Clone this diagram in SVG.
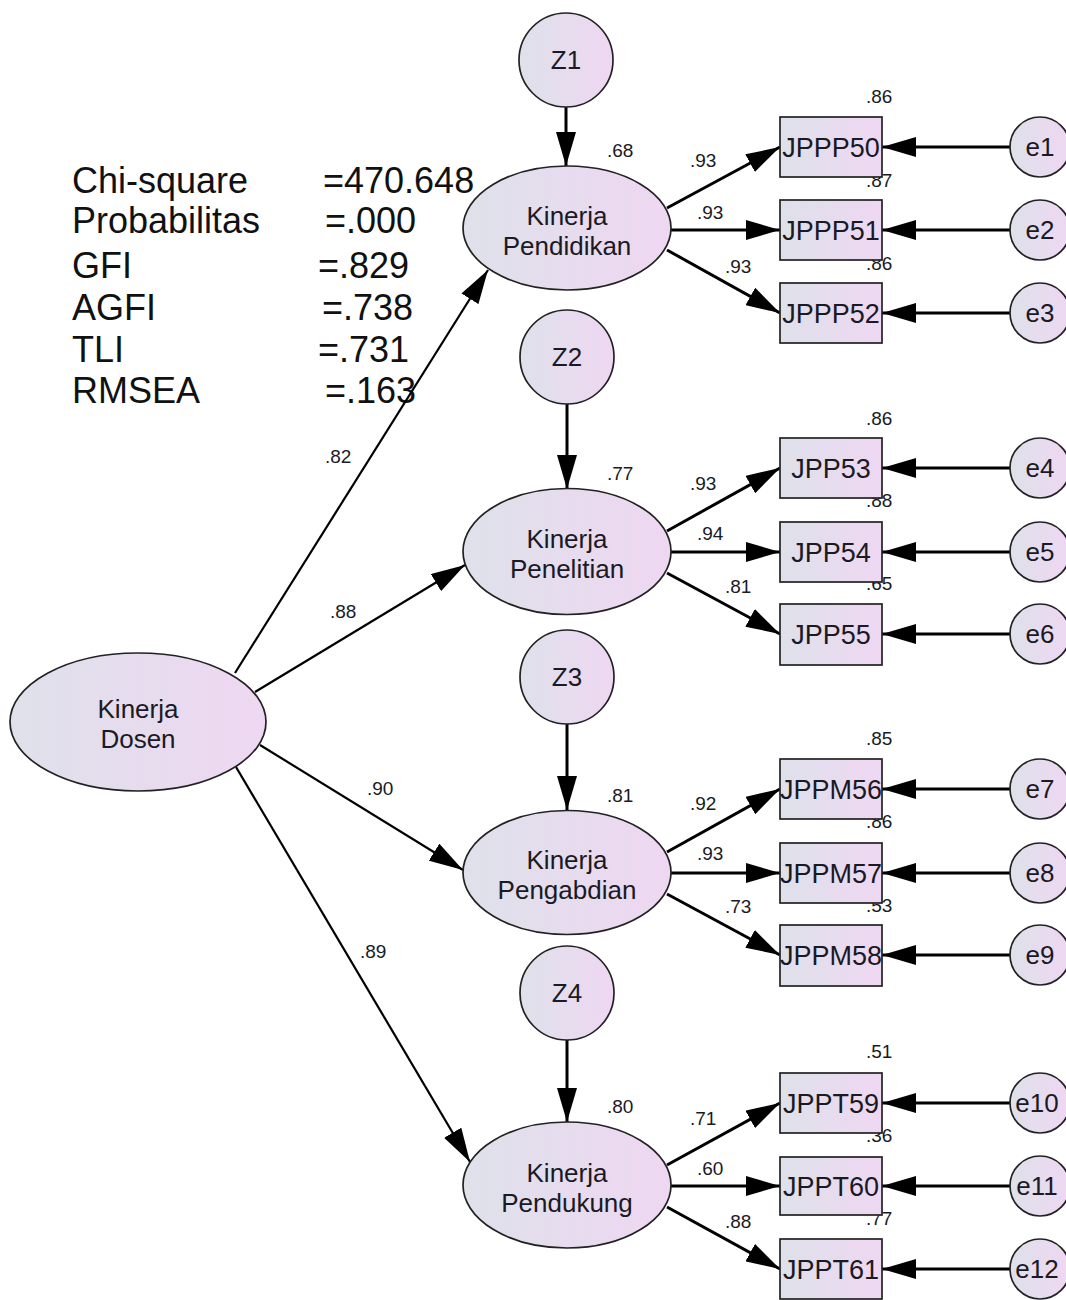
<svg xmlns="http://www.w3.org/2000/svg" width="1066" height="1300" viewBox="0 0 1066 1300">
  <defs>
    <linearGradient id="fillGrad" x1="0" y1="0" x2="1" y2="0">
      <stop offset="0" stop-color="#dee1ea"/>
      <stop offset="1" stop-color="#efd7f2"/>
    </linearGradient>
    <marker id="arrow" markerUnits="userSpaceOnUse" markerWidth="34" markerHeight="20" refX="34" refY="10" orient="auto">
      <path d="M0,0 L34,10 L0,20 Z" fill="#000"/>
    </marker>
  </defs>
  <style>
    .shape { fill: url(#fillGrad); stroke: #222; stroke-width: 1.7; }
    .lbl { font-family: "Liberation Sans", Arial, sans-serif; fill: #1a1a24; }
    .node { font-size: 26px; text-anchor: middle; }
    .box { font-size: 27px; text-anchor: middle; }
    .coef { font-size: 19px; }
    .stat { font-size: 36px; fill: #111; }
    .path { stroke: #000; stroke-width: 2.2; fill: none; marker-end: url(#arrow); }
    .ind { stroke: #000; stroke-width: 3; fill: none; marker-end: url(#arrow); }
  </style>

  <rect width="1066" height="1300" fill="#fff"/>

  <!-- fit statistics -->
  <g id="fit-stats" class="lbl stat">
    <text x="72" y="193">Chi-square</text>
    <text x="72" y="233">Probabilitas</text>
    <text x="72" y="278">GFI</text>
    <text x="72" y="320">AGFI</text>
    <text x="72" y="362">TLI</text>
    <text x="72" y="403">RMSEA</text>
    <text x="323" y="193">=470.648</text>
    <text x="325" y="233">=.000</text>
    <text x="318" y="278">=.829</text>
    <text x="322" y="320">=.738</text>
    <text x="318" y="362">=.731</text>
    <text x="325" y="403">=.163</text>
  </g>

  <!-- connectors -->
  <g id="connectors">
    <!-- structural paths -->
    <line class="path" x1="235" y1="673" x2="488" y2="270"/>
    <line class="path" x1="255" y1="692" x2="465" y2="565"/>
    <line class="path" x1="260" y1="745" x2="463" y2="870"/>
    <line class="path" x1="236" y1="767" x2="470" y2="1162"/>
    <!-- disturbances -->
    <line class="ind" x1="566" y1="107" x2="566" y2="166"/>
    <line class="ind" x1="567" y1="404" x2="567" y2="489"/>
    <line class="ind" x1="567" y1="724" x2="567" y2="810"/>
    <line class="ind" x1="567" y1="1040" x2="567" y2="1122"/>
    <!-- loadings: Pendidikan -->
    <line class="ind" x1="667" y1="208" x2="780" y2="147"/>
    <line class="ind" x1="671" y1="230" x2="780" y2="230"/>
    <line class="ind" x1="667" y1="250" x2="780" y2="313"/>
    <!-- loadings: Penelitian -->
    <line class="ind" x1="667" y1="531" x2="780" y2="468"/>
    <line class="ind" x1="671" y1="552" x2="780" y2="552"/>
    <line class="ind" x1="667" y1="573" x2="780" y2="634"/>
    <!-- loadings: Pengabdian -->
    <line class="ind" x1="667" y1="852" x2="780" y2="789"/>
    <line class="ind" x1="671" y1="873" x2="780" y2="873"/>
    <line class="ind" x1="667" y1="894" x2="780" y2="955"/>
    <!-- loadings: Pendukung -->
    <line class="ind" x1="667" y1="1165" x2="780" y2="1103"/>
    <line class="ind" x1="671" y1="1186" x2="780" y2="1186"/>
    <line class="ind" x1="667" y1="1207" x2="780" y2="1269"/>
    <!-- measurement errors -->
    <line class="ind" x1="1010" y1="147" x2="882" y2="147"/>
    <line class="ind" x1="1010" y1="230" x2="882" y2="230"/>
    <line class="ind" x1="1010" y1="313" x2="882" y2="313"/>
    <line class="ind" x1="1010" y1="468" x2="882" y2="468"/>
    <line class="ind" x1="1010" y1="552" x2="882" y2="552"/>
    <line class="ind" x1="1010" y1="634" x2="882" y2="634"/>
    <line class="ind" x1="1010" y1="789" x2="882" y2="789"/>
    <line class="ind" x1="1010" y1="873" x2="882" y2="873"/>
    <line class="ind" x1="1010" y1="955" x2="882" y2="955"/>
    <line class="ind" x1="1010" y1="1103" x2="882" y2="1103"/>
    <line class="ind" x1="1010" y1="1186" x2="882" y2="1186"/>
    <line class="ind" x1="1010" y1="1269" x2="882" y2="1269"/>
  </g>

  <!-- coefficient labels -->
  <g id="coefficients" class="lbl coef">
    <text x="325" y="463">.82</text>
    <text x="330" y="618">.88</text>
    <text x="367" y="795">.90</text>
    <text x="360" y="958">.89</text>

    <text x="607" y="157">.68</text>
    <text x="690" y="167">.93</text>
    <text x="697" y="219">.93</text>
    <text x="725" y="273">.93</text>
    <text x="866" y="103">.86</text>
    <text x="866" y="187">.87</text>
    <text x="866" y="270">.86</text>

    <text x="607" y="480">.77</text>
    <text x="690" y="490">.93</text>
    <text x="697" y="540">.94</text>
    <text x="725" y="593">.81</text>
    <text x="866" y="425">.86</text>
    <text x="866" y="507">.88</text>
    <text x="866" y="590">.65</text>

    <text x="607" y="802">.81</text>
    <text x="690" y="810">.92</text>
    <text x="697" y="860">.93</text>
    <text x="725" y="913">.73</text>
    <text x="866" y="745">.85</text>
    <text x="866" y="828">.86</text>
    <text x="866" y="912">.53</text>

    <text x="607" y="1113">.80</text>
    <text x="690" y="1125">.71</text>
    <text x="697" y="1175">.60</text>
    <text x="725" y="1228">.88</text>
    <text x="866" y="1058">.51</text>
    <text x="866" y="1142">.36</text>
    <text x="866" y="1225">.77</text>
  </g>

  <!-- latent variables -->
  <g id="kinerja-dosen">
    <ellipse class="shape" cx="138" cy="722" rx="128" ry="69"/>
    <text class="lbl node" x="138" y="718">Kinerja</text>
    <text class="lbl node" x="138" y="748">Dosen</text>
  </g>
  <g id="kinerja-pendidikan">
    <ellipse class="shape" cx="567" cy="228" rx="104" ry="62"/>
    <text class="lbl node" x="567" y="225">Kinerja</text>
    <text class="lbl node" x="567" y="255">Pendidikan</text>
  </g>
  <g id="kinerja-penelitian">
    <ellipse class="shape" cx="567" cy="551.5" rx="104" ry="63"/>
    <text class="lbl node" x="567" y="548">Kinerja</text>
    <text class="lbl node" x="567" y="578">Penelitian</text>
  </g>
  <g id="kinerja-pengabdian">
    <ellipse class="shape" cx="567" cy="872.5" rx="104" ry="62"/>
    <text class="lbl node" x="567" y="869">Kinerja</text>
    <text class="lbl node" x="567" y="899">Pengabdian</text>
  </g>
  <g id="kinerja-pendukung">
    <ellipse class="shape" cx="567" cy="1185" rx="104" ry="63"/>
    <text class="lbl node" x="567" y="1182">Kinerja</text>
    <text class="lbl node" x="567" y="1212">Pendukung</text>
  </g>

  <!-- disturbance terms -->
  <g id="z1"><circle class="shape" cx="566" cy="60" r="47"/><text class="lbl node" x="566" y="69">Z1</text></g>
  <g id="z2"><circle class="shape" cx="567" cy="357" r="47"/><text class="lbl node" x="567" y="366">Z2</text></g>
  <g id="z3"><circle class="shape" cx="567" cy="677" r="47"/><text class="lbl node" x="567" y="686">Z3</text></g>
  <g id="z4"><circle class="shape" cx="567" cy="993" r="47"/><text class="lbl node" x="567" y="1002">Z4</text></g>

  <!-- observed indicators -->
  <g id="jppp50"><rect class="shape" x="780" y="117" width="102" height="60"/><text class="lbl box" x="831" y="157">JPPP50</text></g>
  <g id="jppp51"><rect class="shape" x="780" y="200" width="102" height="60"/><text class="lbl box" x="831" y="240">JPPP51</text></g>
  <g id="jppp52"><rect class="shape" x="780" y="283" width="102" height="60"/><text class="lbl box" x="831" y="323">JPPP52</text></g>
  <g id="jpp53"><rect class="shape" x="780" y="438" width="102" height="60"/><text class="lbl box" x="831" y="478">JPP53</text></g>
  <g id="jpp54"><rect class="shape" x="780" y="522" width="102" height="60"/><text class="lbl box" x="831" y="562">JPP54</text></g>
  <g id="jpp55"><rect class="shape" x="780" y="604" width="102" height="61"/><text class="lbl box" x="831" y="644">JPP55</text></g>
  <g id="jppm56"><rect class="shape" x="780" y="759" width="102" height="60"/><text class="lbl box" x="831" y="799">JPPM56</text></g>
  <g id="jppm57"><rect class="shape" x="780" y="843" width="102" height="60"/><text class="lbl box" x="831" y="883">JPPM57</text></g>
  <g id="jppm58"><rect class="shape" x="780" y="925" width="102" height="61"/><text class="lbl box" x="831" y="965">JPPM58</text></g>
  <g id="jppt59"><rect class="shape" x="780" y="1073" width="102" height="60"/><text class="lbl box" x="831" y="1113">JPPT59</text></g>
  <g id="jppt60"><rect class="shape" x="780" y="1157" width="102" height="58"/><text class="lbl box" x="831" y="1196">JPPT60</text></g>
  <g id="jppt61"><rect class="shape" x="780" y="1239" width="102" height="60"/><text class="lbl box" x="831" y="1279">JPPT61</text></g>

  <!-- measurement error terms -->
  <g id="e1"><circle class="shape" cx="1040" cy="147" r="30"/><text class="lbl node" x="1040" y="156">e1</text></g>
  <g id="e2"><circle class="shape" cx="1040" cy="230" r="30"/><text class="lbl node" x="1040" y="239">e2</text></g>
  <g id="e3"><circle class="shape" cx="1040" cy="313" r="30"/><text class="lbl node" x="1040" y="322">e3</text></g>
  <g id="e4"><circle class="shape" cx="1040" cy="468" r="30"/><text class="lbl node" x="1040" y="477">e4</text></g>
  <g id="e5"><circle class="shape" cx="1040" cy="552" r="30"/><text class="lbl node" x="1040" y="561">e5</text></g>
  <g id="e6"><circle class="shape" cx="1040" cy="634" r="30"/><text class="lbl node" x="1040" y="643">e6</text></g>
  <g id="e7"><circle class="shape" cx="1040" cy="789" r="30"/><text class="lbl node" x="1040" y="798">e7</text></g>
  <g id="e8"><circle class="shape" cx="1040" cy="873" r="30"/><text class="lbl node" x="1040" y="882">e8</text></g>
  <g id="e9"><circle class="shape" cx="1040" cy="955" r="30"/><text class="lbl node" x="1040" y="964">e9</text></g>
  <g id="e10"><circle class="shape" cx="1040" cy="1103" r="30"/><text class="lbl node" x="1037" y="1112">e10</text></g>
  <g id="e11"><circle class="shape" cx="1040" cy="1186" r="30"/><text class="lbl node" x="1037" y="1195">e11</text></g>
  <g id="e12"><circle class="shape" cx="1040" cy="1269" r="30"/><text class="lbl node" x="1037" y="1278">e12</text></g>
</svg>
